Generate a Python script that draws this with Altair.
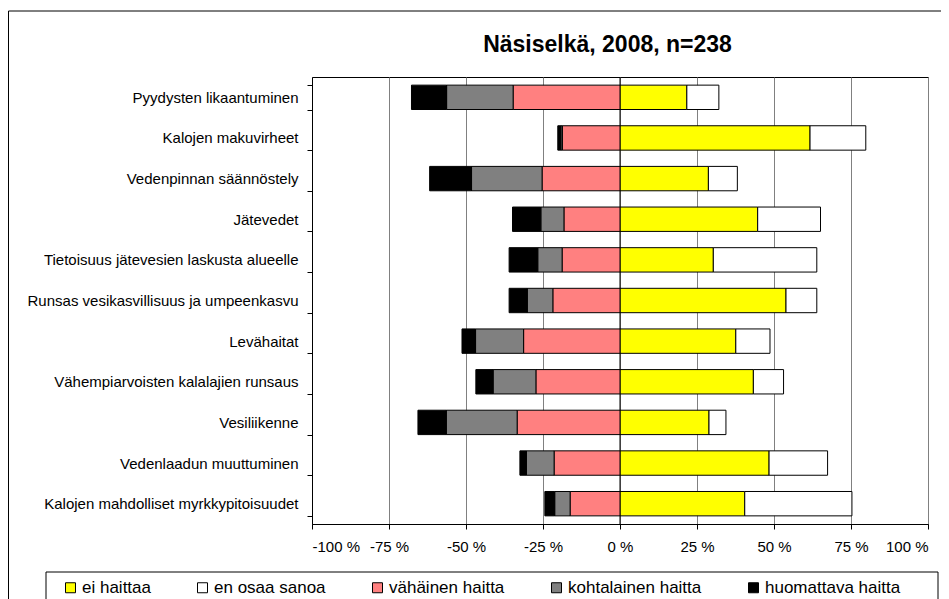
import altair as alt
import pandas as pd

title_text = ["Näsiselkä, 2008, n=238"]

categories = [
    "Pyydysten likaantuminen",
    "Kalojen makuvirheet",
    "Vedenpinnan säännöstely",
    "Jätevedet",
    "Tietoisuus jätevesien laskusta alueelle",
    "Runsas vesikasvillisuus ja umpeenkasvu",
    "Levähaitat",
    "Vähempiarvoisten kalalajien runsaus",
    "Vesiliikenne",
    "Vedenlaadun muuttuminen",
    "Kalojen mahdolliset myrkkypitoisuudet",
]

ei_haittaa = [21.7, 61.7, 28.7, 44.7, 30.3, 53.9, 37.6, 43.3, 28.9, 48.4, 40.5]
en_osaa_sanoa = [10.4, 18.1, 9.4, 20.4, 33.6, 10.0, 11.1, 9.8, 5.5, 19.0, 34.8]
vahainen_haitta = [34.7, 18.7, 25.3, 18.2, 18.8, 21.8, 31.3, 27.3, 33.4, 21.4, 16.2]
kohtalainen_haitta = [21.6, 0.5, 22.9, 7.5, 7.9, 8.3, 15.6, 13.9, 23.0, 9.0, 5.0]
huomattava_haitta = [11.4, 1.0, 13.6, 9.2, 9.3, 5.9, 4.4, 5.6, 9.2, 2.1, 3.2]

series_names = ["ei haittaa", "en osaa sanoa", "vähäinen haitta",
                "kohtalainen haitta", "huomattava haitta"]
series_colors = ["#FFFF00", "#FFFFFF", "#FF8080", "#808080", "#000000"]

x_ticks = [-100, -75, -50, -25, 0, 25, 50, 75, 100]

rows = []
for i, c in enumerate(categories):
    e, o = ei_haittaa[i], en_osaa_sanoa[i]
    v, k, h = vahainen_haitta[i], kohtalainen_haitta[i], huomattava_haitta[i]
    rows.append(dict(cat=c, serie=series_names[0], x=0, x2=e))
    rows.append(dict(cat=c, serie=series_names[1], x=e, x2=e + o))
    rows.append(dict(cat=c, serie=series_names[2], x=0, x2=-v))
    rows.append(dict(cat=c, serie=series_names[3], x=-v, x2=-v - k))
    rows.append(dict(cat=c, serie=series_names[4], x=-v - k, x2=-v - k - h))
df = pd.DataFrame(rows)

FONT = "Liberation Sans"

xscale = alt.Scale(domain=[-100, 100], nice=False, zero=False)
yscale = alt.Scale(domain=categories, paddingInner=0.4, paddingOuter=0.2)

bars = alt.Chart(df).mark_bar(stroke="black", strokeWidth=1).encode(
    x=alt.X("x:Q", scale=xscale,
            axis=alt.Axis(values=x_ticks, title=None, grid=True, gridColor="#808080",
                          gridWidth=1, domainColor="black", tickColor="black",
                          tickSize=5, labelPadding=10, labelFontSize=15,
                          labelFont=FONT, labelColor="black",
                          labelExpr="datum.value + ' %'")),
    x2="x2:Q",
    y=alt.Y("cat:N", scale=yscale, sort=categories,
            axis=alt.Axis(title=None, tickBand="extent", domainColor="black",
                          tickColor="black", tickSize=5, labelPadding=9,
                          labelFontSize=15, labelFont=FONT, labelColor="black",
                          labelLimit=400)),
    color=alt.Color("serie:N",
                    scale=alt.Scale(domain=series_names, range=series_colors),
                    legend=alt.Legend(title=None, orient="none", legendX=-258,
                                      legendY=494, direction="horizontal",
                                      padding=8,
                                      symbolType="square", symbolSize=100,
                                      symbolStrokeColor="black",
                                      symbolStrokeWidth=1, labelFontSize=17,
                                      labelFont=FONT, labelColor="black",
                                      columnPadding=43, labelOffset=3)),
)

zero_rule = alt.Chart(pd.DataFrame({"z": [0]})).mark_rule(color="black", strokeWidth=1).encode(
    x=alt.X("z:Q", scale=xscale)
)

frame_df = pd.DataFrame({"a": [0]})
frame = alt.Chart(frame_df).mark_rect(
    fill=None, stroke="black", strokeWidth=1, clip=False
).encode(
    x=alt.value(-303.5), x2=alt.value(700), y=alt.value(-66), y2=alt.value(700)
)
legend_box = alt.Chart(frame_df).mark_rect(
    fill=None, stroke="black", strokeWidth=1, clip=False
).encode(
    x=alt.value(-266), x2=alt.value(626), y=alt.value(495), y2=alt.value(700)
)

title = alt.Chart(pd.DataFrame({"t": title_text})).mark_text(
    font=FONT, fontSize=23, fontWeight="bold", color="black",
    baseline="alphabetic", align="center", clip=False
).encode(text="t:N", x=alt.value(295.5), y=alt.value(-25))

chart = alt.layer(zero_rule, bars, frame, legend_box, title).properties(
    width=616,
    height=447,
    autosize=alt.AutoSizeParams(type="none"),
    padding={"left": 304, "top": 69, "right": 13, "bottom": 80},
).configure_view(stroke="black", strokeWidth=1)

chart.save("out.html", embed_options={"renderer": "svg", "actions": False})
